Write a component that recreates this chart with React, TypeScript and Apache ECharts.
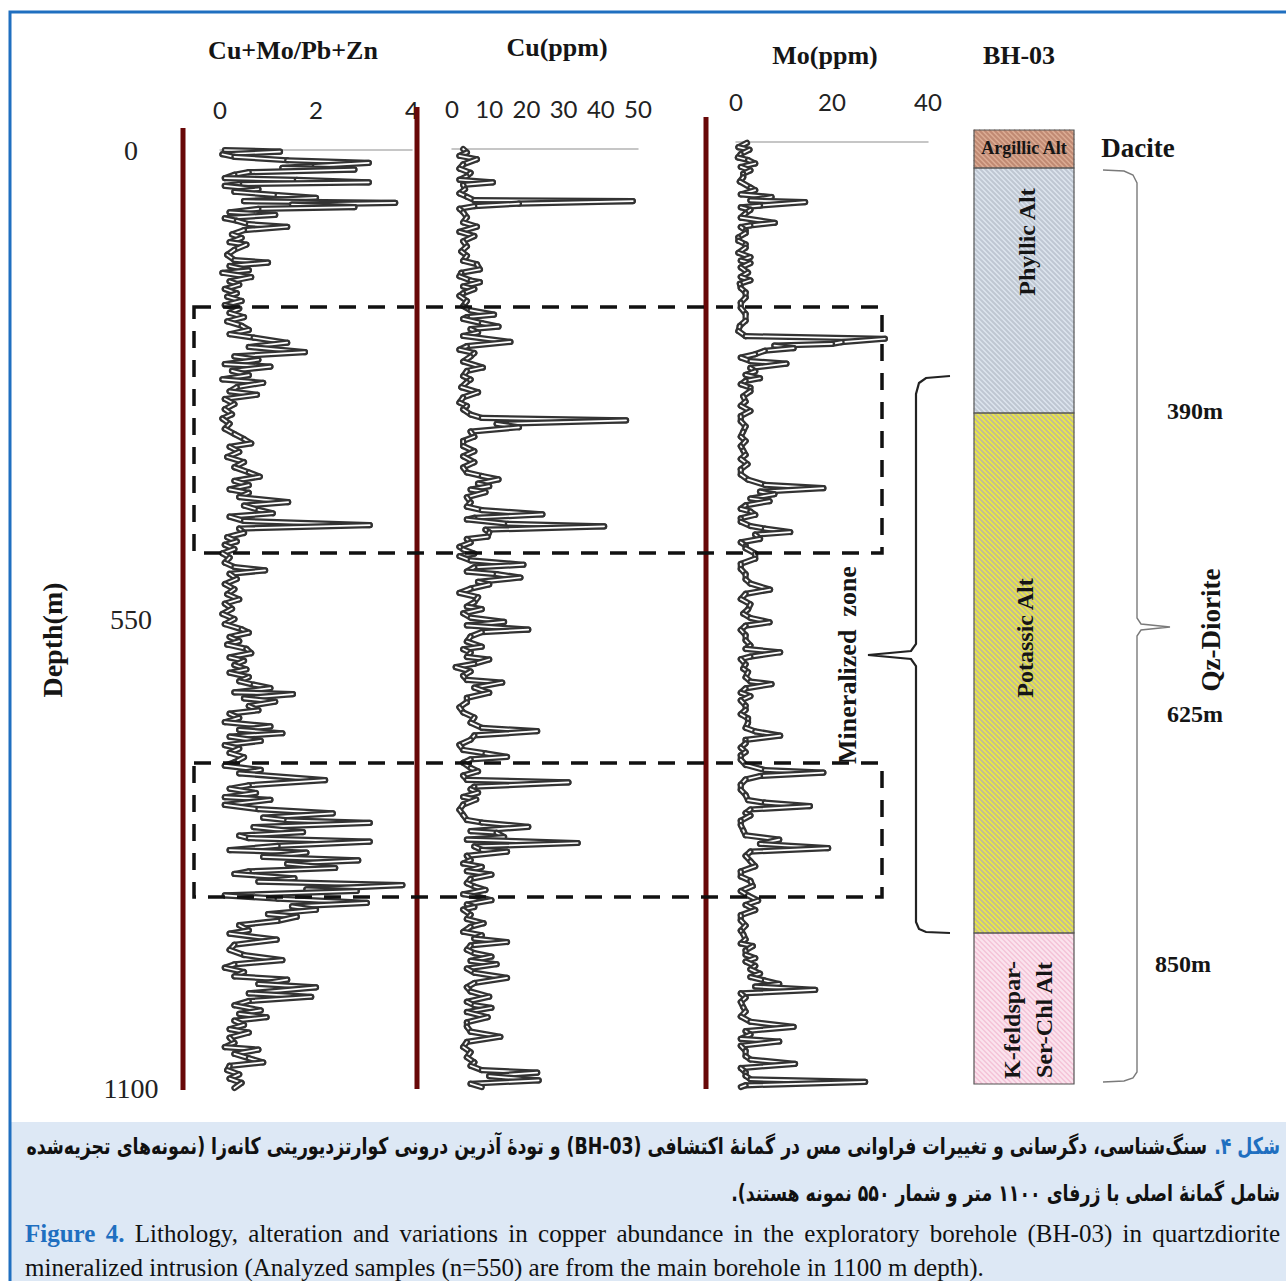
import React, { useEffect, useRef } from "react";
import * as echarts from "echarts";

// ---------- DATA ----------
// tick labels
const ratioTicks = [0, 2, 4];
const cuTicks = [0, 10, 20, 30, 40, 50];
const moTicks = [0, 20, 40];
const depthTicks = [0, 550, 1100];

// [depth (m), Cu+Mo/Pb+Zn]
const ratioLog: [number, number][] = [
  [0, 0.1], [2, 1.25], [5, 0.05], [8, 0.3], [12, 1.4], [15, 3.1], [19, 1.9], [21, 1.3], [23, 2.8], [26, 0.6],
  [29, 0.3], [33, 0.1], [35, 1.6], [38, 3.1], [40, 0.4], [42, 0.1], [46, 0.8], [49, 0.3], [53, 1.2], [56, 2.0],
  [60, 0.5], [62, 3.65], [64, 1.5], [67, 2.8], [69, 0.8], [73, 0.2], [76, 1.15], [80, 0.1], [83, 0.35], [87, 0.6],
  [90, 1.4], [94, 0.5], [99, 0.25], [103, 0.45], [108, 0.2], [111, 0.55], [117, 0.3], [123, 0.15], [129, 0.3], [132, 1.0],
  [136, 0.2], [141, 0.6], [144, 0.05], [149, 0.65], [154, 0.2], [158, 0.4], [163, 0.1], [168, 0.35], [172, 0.15], [177, 0.45],
  [182, 0.1], [186, 0.4], [191, 0.2], [196, 0.5], [201, 0.15], [206, 0.45], [211, 0.6], [216, 0.2], [220, 0.7], [226, 1.4],
  [231, 0.6], [237, 1.77], [242, 0.3], [246, 0.8], [251, 0.1], [254, 1.05], [259, 0.25], [264, 0.6], [269, 0.05], [273, 0.9],
  [278, 0.35], [283, 0.2], [287, 0.77], [292, 0.1], [298, 0.3], [304, 0.1], [310, 0.25], [315, 0.05], [321, 0.2], [327, 0.1],
  [333, 0.3], [339, 0.5], [344, 0.65], [348, 0.2], [354, 0.4], [360, 0.15], [366, 0.5], [372, 0.3], [378, 0.6], [383, 0.83],
  [388, 0.3], [393, 0.6], [398, 0.2], [402, 0.6], [407, 0.4], [413, 1.42], [417, 0.5], [422, 0.8], [426, 1.1], [430, 0.2],
  [435, 0.5], [440, 3.12], [444, 0.4], [449, 0.5], [454, 0.15], [459, 0.35], [463, 0.1], [468, 0.3], [473, 0.05], [478, 0.2],
  [484, 0.1], [489, 0.3], [493, 0.94], [497, 0.2], [503, 0.35], [509, 0.1], [515, 0.3], [521, 0.15], [527, 0.4], [532, 0.1],
  [538, 0.25], [544, 0.05], [550, 0.3], [556, 0.1], [562, 0.45], [566, 0.6], [571, 0.2], [576, 0.4], [580, 0.15], [585, 0.55],
  [590, 0.65], [595, 0.2], [599, 0.5], [604, 0.3], [609, 0.55], [613, 0.2], [618, 0.6], [623, 0.4], [627, 0.7], [631, 1.05],
  [636, 0.3], [638, 1.52], [643, 0.5], [647, 1.15], [652, 0.6], [657, 0.8], [661, 0.2], [666, 0.4], [671, 0.1], [676, 1.05],
  [680, 0.4], [684, 1.3], [688, 0.2], [693, 0.85], [698, 0.1], [702, 0.4], [707, 0.2], [712, 0.5], [718, 0.3], [722, 0.1],
  [727, 0.85], [731, 0.4], [739, 2.19], [745, 0.6], [749, 0.2], [754, 0.75], [759, 0.1], [762, 1.05], [768, 0.1], [773, 0.8],
  [778, 2.35], [783, 0.9], [786, 1.4], [789, 3.12], [794, 0.7], [800, 1.73], [804, 0.4], [807, 0.6], [811, 3.12], [816, 1.2],
  [821, 0.2], [824, 1.8], [829, 0.9], [833, 2.88], [837, 1.4], [842, 2.4], [846, 0.6], [849, 0.3], [854, 1.55], [858, 0.8],
  [862, 3.8], [867, 1.8], [869, 2.85], [874, 0.1], [878, 1.2], [883, 3.06], [887, 1.5], [891, 2.0], [896, 1.0], [899, 1.6],
  [904, 1.2], [909, 0.4], [915, 0.6], [919, 0.2], [926, 1.18], [932, 0.3], [938, 0.2], [944, 0.5], [950, 1.3], [955, 0.3],
  [959, 0.1], [964, 0.5], [969, 0.3], [973, 1.4], [978, 0.8], [982, 2.0], [989, 0.6], [993, 1.9], [998, 0.6], [1003, 0.3],
  [1009, 0.85], [1013, 0.4], [1017, 0.97], [1021, 0.3], [1026, 0.5], [1031, 0.2], [1035, 0.6], [1041, 0.2], [1047, 0.3], [1052, 0.1],
  [1055, 0.8], [1060, 0.3], [1065, 0.6], [1070, 0.9], [1074, 0.2], [1079, 0.15], [1084, 0.4], [1089, 0.2], [1094, 0.45], [1100, 0.3],
];

// [depth (m), Cu (ppm)]
const cuLog: [number, number][] = [
  [0, 3], [4, 4], [8, 2], [12, 6.7], [18, 3], [23, 2], [28, 5], [32, 4], [36, 2], [39, 11],
  [42, 3], [47, 3.5], [52, 2], [56, 4], [60, 6], [61, 48.6], [64, 18], [67, 6], [70, 2], [74, 3],
  [80, 4], [86, 3], [91, 6.7], [97, 2], [102, 6], [108, 3], [114, 4], [120, 2.5], [125, 4], [131, 3],
  [135, 6.7], [141, 7.5], [145, 2.5], [149, 2], [154, 5], [156, 7.5], [161, 3], [164, 6], [169, 3], [172, 2],
  [178, 4], [184, 3], [189, 5], [194, 11.3], [197, 4], [199, 3], [204, 8], [208, 12.5], [211, 5], [215, 7],
  [219, 3], [226, 15.7], [231, 4], [235, 2], [239, 6], [243, 5], [249, 3], [256, 8.3], [260, 4], [266, 3],
  [270, 5], [273, 4], [279, 2.5], [285, 7], [291, 3], [297, 2], [301, 4], [305, 3], [311, 5], [315, 8],
  [318, 46.8], [322, 12], [326, 18], [331, 5], [337, 6], [342, 3], [348, 3], [354, 6], [360, 3], [367, 6],
  [373, 3], [379, 4], [383, 8], [387, 12.5], [392, 7], [395, 10], [399, 5], [402, 9], [408, 4], [414, 5],
  [419, 4], [423, 8], [428, 24.3], [432, 6], [434, 4], [439, 15], [442, 40.9], [446, 9], [449, 10], [454, 9.6],
  [457, 4], [461, 5], [466, 2], [469, 3], [474, 6], [477, 2], [482, 5], [487, 19.2], [490, 6], [495, 4],
  [498, 12], [502, 18.4], [507, 7], [510, 10], [515, 5], [520, 2], [525, 7], [531, 6], [536, 4], [539, 8],
  [544, 3], [549, 5], [554, 14], [558, 4], [563, 20.5], [566, 8], [571, 5], [577, 4], [583, 8], [586, 3],
  [590, 5], [595, 4], [598, 10], [603, 6], [607, 1], [612, 5], [617, 3], [622, 4], [625, 13.5], [631, 6],
  [637, 10], [643, 4], [648, 4], [654, 2], [660, 3], [666, 6], [672, 5], [678, 8], [682, 22.9], [687, 6],
  [692, 5], [698, 2], [704, 3], [708, 9], [712, 14.8], [715, 5], [719, 3], [725, 5], [729, 7], [734, 3],
  [739, 4], [742, 31.3], [747, 6], [750, 5], [754, 7], [759, 3], [762, 6.5], [768, 3], [774, 2], [780, 3],
  [786, 4], [789, 8], [794, 20.5], [799, 5], [801, 12], [806, 14], [809, 4], [813, 33.8], [817, 6], [821, 8],
  [823, 14.8], [828, 4], [833, 5], [837, 3], [841, 8], [846, 4], [850, 10.6], [855, 5], [860, 4], [864, 6],
  [868, 9], [873, 3], [876, 7], [880, 10.6], [885, 4], [888, 6], [891, 3], [897, 5], [902, 4], [907, 8.5],
  [911, 5], [917, 3], [921, 8], [925, 6], [929, 14.8], [933, 5], [938, 4], [942, 6], [946, 10.6], [951, 5],
  [955, 12], [960, 4], [965, 6], [971, 14.8], [977, 6], [982, 4], [987, 5], [993, 10], [999, 4], [1003, 6],
  [1006, 10.6], [1011, 4], [1017, 9.6], [1023, 4], [1028, 4], [1034, 5], [1040, 13], [1046, 4], [1052, 3], [1058, 5],
  [1064, 4], [1070, 6], [1074, 5], [1079, 8], [1082, 22.9], [1086, 10], [1091, 23.3], [1095, 5], [1099, 8],
];

// [depth (m), Mo (ppm)]
const moLog: [number, number][] = [
  [1, 2.3], [6, 0.5], [9, 2.8], [14, 1], [18, 0.4], [21, 2.5], [25, 4], [29, 1], [33, 3], [37, 1.5],
  [41, 1.5], [46, 0.8], [53, 3], [56, 4], [61, 1], [64, 7.4], [68, 3], [70, 14.4], [74, 5], [76, 1],
  [79, 3], [83, 2], [88, 1], [94, 8.1], [97, 3], [99, 1], [103, 2], [106, 2], [111, 0.5], [115, 0.5],
  [119, 2], [123, 2], [129, 0.5], [134, 3], [138, 1], [141, 3], [146, 1], [152, 2.5], [157, 1], [161, 3],
  [165, 0.8], [170, 1], [175, 2], [181, 2], [187, 1], [193, 1], [200, 2], [208, 2], [214, 0.8], [220, 0.5],
  [226, 2], [229, 31], [233, 22], [235, 20], [237, 8], [240, 12], [243, 6], [247, 4], [251, 1], [255, 3],
  [258, 10.5], [263, 3], [267, 4], [271, 2], [275, 5], [278, 2], [282, 1], [286, 3], [290, 3], [296, 1.5],
  [302, 2], [307, 1], [313, 3], [319, 1], [325, 1], [331, 2], [337, 1.5], [343, 1], [348, 2], [354, 1],
  [359, 1.5], [364, 2], [369, 1], [375, 2.4], [381, 1], [387, 1], [393, 2.5], [399, 6], [403, 18.2], [407, 5],
  [410, 8], [415, 3], [418, 7], [423, 2], [427, 1], [430, 3], [434, 4], [438, 1], [442, 1], [447, 3],
  [450, 6], [454, 11.3], [457, 4], [462, 5], [466, 1], [470, 2], [473, 2], [479, 4], [485, 4], [491, 1],
  [497, 1], [503, 2], [509, 2], [514, 3], [521, 7.1], [526, 2], [532, 1], [538, 3], [544, 2.5], [549, 1.5],
  [554, 3], [559, 7], [563, 2], [568, 1], [574, 2], [580, 2], [586, 3], [590, 2], [594, 9.2], [599, 3],
  [602, 1], [608, 2], [613, 1.5], [617, 2.5], [623, 2], [628, 3], [631, 7.4], [636, 2], [641, 1], [645, 3],
  [650, 1], [656, 2], [661, 2], [666, 1], [671, 2.5], [676, 2.5], [682, 2], [686, 4], [691, 9.2], [696, 2],
  [700, 2], [705, 1], [710, 2], [714, 1], [719, 1], [725, 2], [731, 6], [734, 18.2], [738, 5], [742, 2],
  [748, 1], [754, 1], [760, 2], [766, 2.5], [769, 6], [773, 15.4], [777, 3], [781, 2], [784, 3], [790, 1],
  [795, 1], [801, 1.5], [807, 2], [812, 9], [817, 5], [822, 19.2], [826, 3], [831, 2], [837, 3], [843, 4],
  [849, 1], [855, 1], [860, 3], [866, 3.5], [872, 1], [877, 2.5], [883, 4.6], [888, 2], [894, 4], [900, 1],
  [906, 1], [912, 2], [918, 1], [922, 1.5], [928, 2], [933, 1], [936, 3.5], [941, 2], [946, 2], [950, 4],
  [954, 2], [959, 4], [963, 3], [968, 5], [972, 3], [976, 6], [980, 9], [983, 4], [987, 16.5], [991, 1],
  [996, 2], [1001, 1], [1007, 1.5], [1012, 2], [1018, 1], [1024, 3], [1030, 12], [1035, 2], [1039, 3], [1044, 1],
  [1047, 9], [1052, 1], [1058, 2], [1064, 2], [1068, 3], [1073, 12.3], [1078, 1], [1083, 2], [1087, 2], [1091, 3],
  [1094, 26.9], [1098, 2], [1100, 1],
];

// lithology / alteration column (top to bottom)
const alterationNames = ["Argillic Alt", "Phyllic Alt", "Potassic Alt", "K-feldspar-\nSer-Chl Alt"];
const alterationFill = ["#dbac94", "#dde5ee", "#eeee3a", "#f4c2d7"];
const alterationHatch = ["#c08a73", "#bfc7d2", "#c4bd92", "#fbe4ee"];
const depthMarks = ["390m", "625m", "850m"];

// captions
const faLabel = "شکل ۴.";
const faLine1 = "سنگ‌شناسی، دگرسانی و تغییرات فراوانی مس در گمانهٔ اکتشافی (BH-03) و تودهٔ آذرین درونی کوارتزدیوریتی کانه‌زا (نمونه‌های تجزیه‌شده";
const faLine2 = "شامل گمانهٔ اصلی با ژرفای ۱۱۰۰ متر و شمار ۵۵۰ نمونه هستند).";
const enLabel = "Figure 4.";
const enLine1 = "Lithology, alteration and variations in copper abundance in the exploratory borehole (BH-03) in quartzdiorite";
const enLine2 = "mineralized intrusion (Analyzed samples (n=550) are from the main borehole in 1100 m depth).";

// ---------- LAYOUT ----------
const FONT_SERIF = "'Liberation Serif', 'Times New Roman', serif";
const FONT_TICK = "Lato, 'Open Sans', sans-serif";
const FONT_FA = "'DejaVu Sans', sans-serif";
const BLUE = "#1f6fc0";
const RLE = "\u202B";
const PDF = "\u202C";

function segments(log: [number, number][]) {
  const out: number[][] = [];
  for (let i = 1; i < log.length; i++) {
    out.push([log[i][1], log[i][0], log[i - 1][1], log[i - 1][0]]);
  }
  return out;
}

const renderSeg = (_p: any, api: any) => {
  const a = api.coord([api.value(2), api.value(3)]);
  const b = api.coord([api.value(0), api.value(1)]);
  const shape = { x1: a[0], y1: a[1], x2: b[0], y2: b[1] };
  return {
    type: "group",
    children: [
      { type: "line", shape, style: { stroke: "#333333", lineWidth: 6.2, lineCap: "round" } },
      { type: "line", shape, style: { stroke: "#ffffff", lineWidth: 1.7, lineCap: "round" } },
    ],
  };
};

function hatch(x0: number, y0: number, w: number, h: number, step: number, color: string, lw: number) {
  const out: any[] = [];
  for (let c = y0 - (x0 + w); c < y0 + h - x0; c += step) {
    const xa = Math.max(x0, y0 - c);
    const xb = Math.min(x0 + w, y0 + h - c);
    if (xb <= xa) continue;
    out.push({
      type: "line",
      silent: true,
      z: 5,
      shape: { x1: xa, y1: xa + c, x2: xb, y2: xb + c },
      style: { stroke: color, lineWidth: lw },
    });
  }
  return out;
}

function label(x: number, y: number, text: string, size: number, rot = 0, extra: any = {}) {
  return {
    type: "text",
    x,
    y,
    rotation: rot,
    z: 20,
    style: {
      text,
      fontSize: size,
      fontFamily: FONT_SERIF,
      fontWeight: "bold",
      fill: "#151515",
      align: "center",
      verticalAlign: "middle",
      ...extra,
    },
  };
}

function xAxisFor(grid: number, ticks: number[]) {
  return {
    type: "value",
    gridIndex: grid,
    position: "top",
    min: ticks[0],
    max: ticks[ticks.length - 1],
    interval: ticks[1] - ticks[0],
    axisLine: { show: true, onZero: false, lineStyle: { color: "#b4b4b4", width: 1.5 } },
    axisTick: { show: false },
    splitLine: { show: false },
    axisLabel: { show: true, margin: 29, fontSize: 24, fontFamily: FONT_TICK, color: "#222" },
  };
}

function yAxisFor(grid: number, showLabels: boolean) {
  return {
    type: "value",
    gridIndex: grid,
    inverse: true,
    min: depthTicks[0],
    max: depthTicks[depthTicks.length - 1],
    interval: depthTicks[1] - depthTicks[0],
    axisLine: { show: false },
    axisTick: { show: false },
    splitLine: { show: false },
    axisLabel: {
      show: showLabels,
      margin: 89,
      align: "center",
      fontSize: 28,
      fontFamily: FONT_SERIF,
      color: "#222",
      formatter: (v: number) => String(v),
    },
  };
}

function measurer() {
  const ctx = document.createElement("canvas").getContext("2d")!;
  return (text: string, font: string) => {
    ctx.font = font;
    return ctx.measureText(text).width;
  };
}

export default function App() {
  const ref = useRef<HTMLDivElement>(null);

  useEffect(() => {
    document.body.style.margin = "0";
    const chart = echarts.init(ref.current!, undefined, { renderer: "svg" });
    const measure = measurer();

    // lithology column
    const colX = 974;
    const colW = 100;
    const bounds = [130, 168, 413, 933, 1084];
    const litho: any[] = [];
    alterationNames.forEach((_, i) => {
      const y0 = bounds[i];
      const h = bounds[i + 1] - y0;
      litho.push({
        type: "rect",
        z: 4,
        shape: { x: colX, y: y0, width: colW, height: h },
        style: { fill: alterationFill[i], stroke: "none" },
      });
      litho.push(...hatch(colX, y0, colW, h, 5, alterationHatch[i], 2));
      litho.push({
        type: "rect",
        z: 6,
        shape: { x: colX, y: y0, width: colW, height: h },
        style: { fill: "none", stroke: "#555", lineWidth: 1.2 },
      });
    });

    const rightBrace = [
      [1103, 170], [1124, 171], [1133, 175], [1137, 183], [1137, 618], [1141, 624], [1170, 627],
      [1141, 630], [1137, 636], [1137, 1072], [1133, 1078], [1124, 1081], [1103, 1082],
    ];
    const zoneBrace = [
      [950, 376], [926, 378], [919, 383], [916, 394], [916, 644], [911, 651], [868, 655],
      [911, 659], [916, 666], [916, 922], [919, 929], [926, 932], [950, 933],
    ];

    // ---- Persian caption: taller glyphs, horizontally condensed to fit the text block ----
    const left = 25;
    const right = 1280;
    const gap = 7;
    const faSize = 23;
    const faFont = `bold ${faSize}px 'DejaVu Sans'`;
    const wLab = measure(faLabel, faFont);
    const wL1 = measure(faLine1, faFont);
    const faScale = (right - left - gap) / (wLab + wL1);

    // ---- English caption: justify line 1 ----
    const enSize = 25;
    const enFont = `${enSize}px 'Liberation Serif'`;
    const enBold = `bold ${enSize}px 'Liberation Serif'`;
    const tokens: { t: string; b: boolean }[] = [
      ...enLabel.split(" ").map((t) => ({ t, b: true })),
      ...enLine1.split(" ").map((t) => ({ t, b: false })),
    ];
    const widths = tokens.map((k) => measure(k.t, k.b ? enBold : enFont));
    const total = widths.reduce((a, b) => a + b, 0);
    const space = (right - left - total) / (tokens.length - 1);
    const enTexts: any[] = [];
    let cx = left;
    tokens.forEach((k, i) => {
      enTexts.push({
        type: "text",
        z: 20,
        x: cx,
        y: 1233,
        style: {
          text: k.t,
          fontSize: enSize,
          fontFamily: FONT_SERIF,
          fontWeight: k.b ? "bold" : "normal",
          fill: k.b ? BLUE : "#111",
          align: "left",
          verticalAlign: "middle",
        },
      });
      cx += widths[i] + space;
    });

    const faText = (x: number, y: number, text: string, fill: string) => ({
      type: "text",
      z: 20,
      x,
      y,
      scaleX: faScale,
      style: { text: RLE + text + PDF, fontSize: faSize, fontFamily: FONT_FA, fontWeight: "bold", fill, align: "right", verticalAlign: "middle" },
    });

    const graphic: any[] = [
      // frame and caption band
      { type: "rect", z: 1, shape: { x: 10, y: 1122, width: 1290, height: 170 }, style: { fill: "#dde8f5" } },
      { type: "rect", z: 30, shape: { x: 10, y: 12, width: 1300, height: 1300 }, style: { fill: "none", stroke: BLUE, lineWidth: 3 } },
      // track separators
      { type: "line", z: 15, shape: { x1: 183, y1: 128, x2: 183, y2: 1090 }, style: { stroke: "#680808", lineWidth: 5 } },
      { type: "line", z: 15, shape: { x1: 417, y1: 107, x2: 417, y2: 1089 }, style: { stroke: "#680808", lineWidth: 5 } },
      { type: "line", z: 15, shape: { x1: 706, y1: 117, x2: 706, y2: 1089 }, style: { stroke: "#680808", lineWidth: 5 } },
      // mineralized dashed boxes
      { type: "rect", z: 18, shape: { x: 194, y: 307, width: 688, height: 246 }, style: { fill: "none", stroke: "#111", lineWidth: 3.5, lineDash: [17, 12] } },
      { type: "rect", z: 18, shape: { x: 194, y: 763, width: 688, height: 134 }, style: { fill: "none", stroke: "#111", lineWidth: 3.5, lineDash: [17, 12] } },
      // titles
      label(293, 50, "Cu+Mo/Pb+Zn", 26),
      label(557, 47, "Cu(ppm)", 26),
      label(825, 55, "Mo(ppm)", 26),
      label(1019, 55, "BH-03", 26),
      label(52, 640, "Depth(m)", 28, Math.PI / 2),
      label(847, 665, "Mineralized  zone", 26, Math.PI / 2),
      // lithology
      ...litho,
      label(1024, 148, alterationNames[0], 18),
      label(1027, 242, alterationNames[1], 24, Math.PI / 2),
      label(1025, 638, alterationNames[2], 24, Math.PI / 2),
      label(1028, 1020, alterationNames[3], 24, Math.PI / 2, { lineHeight: 32 }),
      label(1138, 148, "Dacite", 27),
      label(1211, 630, "Qz-Diorite", 27, Math.PI / 2),
      label(1195, 411, depthMarks[0], 24),
      label(1195, 714, depthMarks[1], 24),
      label(1183, 964, depthMarks[2], 24),
      { type: "polyline", z: 10, shape: { points: rightBrace }, style: { fill: "none", stroke: "#7a7a7a", lineWidth: 1.4 } },
      { type: "polyline", z: 10, shape: { points: zoneBrace }, style: { fill: "none", stroke: "#222", lineWidth: 2.2 } },
      // caption – Persian
      faText(right, 1146, faLabel, BLUE),
      faText(right - wLab * faScale - gap, 1146, faLine1, "#111"),
      faText(right, 1193, faLine2, "#111"),
      // caption – English
      ...enTexts,
      {
        type: "text", z: 20, x: left, y: 1267,
        style: { text: enLine2, fontSize: enSize, fontFamily: FONT_SERIF, fill: "#111", align: "left", verticalAlign: "middle" },
      },
    ];

    chart.setOption({
      animation: false,
      backgroundColor: "#ffffff",
      grid: [
        { left: 220, top: 150, width: 192, height: 938 },
        { left: 452, top: 149, width: 186, height: 939 },
        { left: 736, top: 142, width: 192, height: 945 },
      ],
      xAxis: [xAxisFor(0, ratioTicks), xAxisFor(1, cuTicks), xAxisFor(2, moTicks)],
      yAxis: [yAxisFor(0, true), yAxisFor(1, false), yAxisFor(2, false)],
      series: [ratioLog, cuLog, moLog].map((log, i) => ({
        type: "custom",
        name: ["Cu+Mo/Pb+Zn", "Cu(ppm)", "Mo(ppm)"][i],
        xAxisIndex: i,
        yAxisIndex: i,
        renderItem: renderSeg,
        encode: { x: [0, 2], y: [1, 3] },
        data: segments(log),
        z: 3,
      })),
      graphic: { elements: graphic },
    });

    return () => chart.dispose();
  }, []);

  return <div ref={ref} style={{ width: 1286, height: 1281 }} />;
}
